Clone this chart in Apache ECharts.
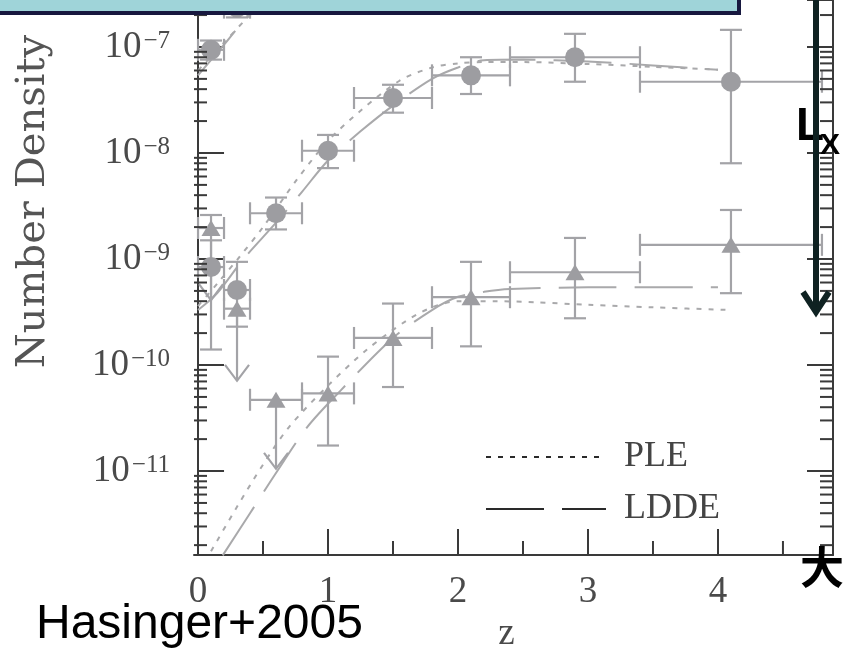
<!DOCTYPE html>
<html>
<head>
<meta charset="utf-8">
<script src="https://cdn.jsdelivr.net/npm/echarts@6/dist/echarts.min.js"></script>
<style>
  html, body { margin: 0; padding: 0; background: #ffffff; }
  #chart { width: 846px; height: 648px; }
</style>
</head>
<body>
<div id="chart"></div>
<script>
// ---- Redshift bins (centre and bin edges) ----
const zCentre = [0.1, 0.3, 0.6, 1.0, 1.5, 2.1, 2.9, 4.1];
const zLow    = [0.0, 0.2, 0.4, 0.8, 1.2, 1.8, 2.4, 3.4];
const zHigh   = [0.2, 0.4, 0.8, 1.2, 1.8, 2.4, 3.4, 4.8];

// ---- Lowest luminosity class (only the first two bins fall inside the frame) ----
const lowZ       = [0.1, 0.3];
const lowZLow    = [0.0, 0.2];
const lowZHigh   = [0.2, 0.4];
const lowDensity = [9.4e-8, 2.35e-7];
const lowErrLow  = [7.6e-8, 1.9e-7];
const lowErrHigh = [1.15e-7, 2.9e-7];

// ---- Middle luminosity class (circles) ----
const midDensity = [8.4e-10, 5.1e-10, 2.7e-9, 1.05e-8, 3.3e-8, 5.4e-8, 8.0e-8, 4.7e-8];
const midErrLow  = [1.4e-10, 2.3e-10, 1.9e-9, 7.2e-9, 2.4e-8, 3.6e-8, 4.7e-8, 8.0e-9];
const midErrHigh = [1.5e-9, 9.4e-10, 3.8e-9, 1.48e-8, 4.4e-8, 8.0e-8, 1.33e-7, 1.45e-7];

// ---- Highest luminosity class (triangles); first three bins are upper limits ----
const highDensity    = [1.96e-9, 3.4e-10, 4.7e-11, 5.4e-11, 1.8e-10, 4.36e-10, 7.5e-10, 1.36e-9];
const highErrLow     = [4.1e-10, 7.1e-11, 1.05e-11, 1.74e-11, 6.2e-11, 1.5e-10, 2.76e-10, 4.76e-10];
const highErrHigh    = [2.6e-9, 3.4e-10, 4.7e-11, 1.2e-10, 3.8e-10, 9.4e-10, 1.58e-9, 2.9e-9];
const highUpperLimit = [1, 1, 1, 0, 0, 0, 0, 0];

// ---- Model curves: PLE (dotted) and LDDE (long dashes) ----
const pleLowZ  = [0.0, 0.2, 0.4, 0.6];
const pleLowN  = [6.0e-8, 1.1e-7, 2.0e-7, 3.4e-7];
const lddeLowZ = [0.0, 0.2, 0.4, 0.6];
const lddeLowN = [5.4e-8, 1.05e-7, 2.1e-7, 3.8e-7];

const pleMidZ  = [0.0, 0.15, 0.32, 0.5, 0.76, 1.0, 1.25, 1.55, 1.8, 2.0, 2.2, 2.5, 3.0, 3.5, 4.0];
const pleMidN  = [3.6e-10, 5.9e-10, 1.05e-9, 2.0e-9, 5.6e-9, 1.3e-8, 2.5e-8, 4.8e-8, 6.4e-8, 7.0e-8, 7.2e-8, 7.2e-8, 6.9e-8, 6.5e-8, 6.1e-8];
const lddeMidZ = [0.0, 0.15, 0.35, 0.6, 0.8, 1.0, 1.25, 1.5, 1.8, 2.0, 2.2, 2.5, 3.0, 3.5, 4.0];
const lddeMidN = [3.3e-10, 4.8e-10, 1.0e-9, 2.2e-9, 4.3e-9, 8.5e-9, 1.6e-8, 2.8e-8, 5.0e-8, 6.4e-8, 7.5e-8, 7.6e-8, 7.3e-8, 6.7e-8, 6.1e-8];

const pleHighZ  = [0.1, 0.3, 0.5, 0.7, 1.0, 1.3, 1.6, 1.8, 2.0, 2.3, 2.6, 3.0, 3.5, 4.1];
const pleHighN  = [1.75e-12, 4.6e-12, 1.15e-11, 2.6e-11, 6.4e-11, 1.4e-10, 2.6e-10, 3.5e-10, 4.0e-10, 4.0e-10, 3.9e-10, 3.7e-10, 3.5e-10, 3.3e-10];
const lddeHighZ = [0.19, 0.4, 0.61, 0.84, 1.1, 1.5, 1.8, 2.0, 2.2, 2.4, 3.0, 4.0];
const lddeHighN = [1.6e-12, 4.0e-12, 1.0e-11, 2.6e-11, 5.8e-11, 1.8e-10, 3.3e-10, 4.4e-10, 4.9e-10, 5.2e-10, 5.4e-10, 5.4e-10];

// ---- Axis ranges and tick positions ----
const zMin = -0.031, zMax = 4.885;
const densityMin = Math.pow(10, -11.792), densityMax = Math.pow(10, -6.557);
const zMinorTicks = [0.5, 1.5, 2.5, 3.5, 4.5];
const decades = [-12, -11, -10, -9, -8, -7];
const minorSteps = [2, 3, 4, 5, 6, 7, 8, 9];

const MARK = '#9d9da1';
const BAR = '#a3a3a7';
const CURVE = '#a9a9ab';
const AXIS = '#3a3a3a';
const SERIF = 'Liberation Serif';
const WIDE_SERIF = 'DejaVu Serif';
const PLE_DASH = [5, 7];
const LDDE_DASH = [58, 18];

const yMinorValues = [];
decades.forEach(d => minorSteps.forEach(k => {
  const v = k * Math.pow(10, d);
  if (v > densityMin && v < densityMax) yMinorValues.push(v);
}));

function zip(xs, ys) { return xs.map((x, i) => [x, ys[i]]); }

function barRows(z, lo, hi, n, nLo, nHi, lim) {
  return z.map((v, i) => [v, lo[i], hi[i], n[i], nLo[i], nHi[i], lim ? lim[i] : 0]);
}

// Error bars with end caps; upper limits end in an open arrow head
function renderErrorBar(params, api) {
  const z = api.value(0), zl = api.value(1), zh = api.value(2);
  const n = api.value(3), nl = api.value(4), nh = api.value(5), lim = api.value(6);
  const c = api.coord([z, n]);
  const xl = api.coord([zl, n])[0];
  const xh = api.coord([zh, n])[0];
  const yl = api.coord([z, nl])[1];
  const yh = api.coord([z, nh])[1];
  const cap = 11;
  const st = { stroke: BAR, lineWidth: 2.2, fill: null };
  const kids = [
    { type: 'line', shape: { x1: xl, y1: c[1], x2: xh, y2: c[1] }, style: st },
    { type: 'line', shape: { x1: xl, y1: c[1] - cap, x2: xl, y2: c[1] + cap }, style: st },
    { type: 'line', shape: { x1: xh, y1: c[1] - cap, x2: xh, y2: c[1] + cap }, style: st },
    { type: 'line', shape: { x1: c[0], y1: yh, x2: c[0], y2: yl }, style: st }
  ];
  if (nh > n) {
    kids.push({ type: 'line', shape: { x1: c[0] - cap, y1: yh, x2: c[0] + cap, y2: yh }, style: st });
  }
  if (lim) {
    kids.push({ type: 'polyline', shape: { points: [[c[0] - 12, yl - 16], [c[0], yl], [c[0] + 12, yl - 16]] }, style: st });
  } else {
    kids.push({ type: 'line', shape: { x1: c[0] - cap, y1: yl, x2: c[0] + cap, y2: yl }, style: st });
  }
  return { type: 'group', children: kids };
}

// Log-spaced minor ticks on the left and right frame edges
function renderYMinor(params, api) {
  const cs = params.coordSys;
  const y = api.coord([0, api.value(0)])[1];
  const st = { stroke: AXIS, lineWidth: 2 };
  return { type: 'group', children: [
    { type: 'line', shape: { x1: cs.x, y1: y, x2: cs.x + 13, y2: y }, style: st },
    { type: 'line', shape: { x1: cs.x + cs.width - 13, y1: y, x2: cs.x + cs.width, y2: y }, style: st }
  ] };
}

function renderXMinor(params, api) {
  const cs = params.coordSys;
  const x = api.coord([api.value(0), densityMin])[0];
  const yb = cs.y + cs.height;
  return { type: 'line', shape: { x1: x, y1: yb, x2: x, y2: yb - 14 }, style: { stroke: AXIS, lineWidth: 2 } };
}

function curve(name, z, n, dash) {
  return {
    type: 'line', name: name, data: zip(z, n), symbol: 'none', smooth: 0.3,
    itemStyle: { color: CURVE },
    lineStyle: { color: CURVE, width: 2, type: dash }, z: 2, silent: true, clip: true
  };
}

function powerLabel(v) {
  const e = Math.log10(v);
  const r = Math.round(e);
  if (Math.abs(e - r) > 1e-6) return '';
  return '{b|10}{s|\u2212' + (-r) + '}';
}

const chart = echarts.init(document.getElementById('chart'), null, { renderer: 'canvas' });

chart.setOption({
  backgroundColor: '#ffffff',
  animation: false,
  grid: { left: 194, right: 13, top: 0, bottom: 93, containLabel: false, outerBoundsMode: 'none' },
  legend: {
    data: [
      { name: 'PLE', itemStyle: { opacity: 0 } },
      { name: 'LDDE', itemStyle: { opacity: 0 } }
    ],
    orient: 'vertical',
    left: 480, top: 434,
    itemWidth: 120, itemHeight: 14, itemGap: 16,
    selectedMode: false,
    itemStyle: { opacity: 0 },
    lineStyle: { color: '#2a2a2a', width: 2 },
    textStyle: { fontFamily: SERIF, fontSize: 36, color: '#444444', padding: [0, 0, 0, 13] }
  },
  xAxis: {
    type: 'value', min: zMin, max: zMax,
    name: 'z', nameLocation: 'middle', nameGap: 60,
    nameTextStyle: { fontFamily: SERIF, fontSize: 37, color: '#4a4a4a', padding: [0, 14, 0, 0] },
    axisLine: { lineStyle: { color: AXIS, width: 2 } },
    axisTick: { inside: true, length: 26, lineStyle: { color: AXIS, width: 2 } },
    axisLabel: {
      interval: 0, margin: 19, showMinLabel: false, showMaxLabel: false,
      fontFamily: SERIF, fontSize: 37, color: '#4a4a4a',
      formatter: v => Math.abs(v - Math.round(v)) < 1e-6 ? String(Math.round(v)) : ''
    },
    splitLine: { show: false }
  },
  yAxis: [{
    type: 'log', min: densityMin, max: densityMax, logBase: 10,
    name: 'Number Density', nameLocation: 'middle', nameGap: 140, nameRotate: 90,
    nameTextStyle: { fontFamily: WIDE_SERIF, fontSize: 40, color: '#555555', padding: [0, 0, 0, 152] },
    axisLine: { lineStyle: { color: AXIS, width: 2 } },
    axisTick: { inside: true, length: 26, lineStyle: { color: AXIS, width: 2 } },
    axisLabel: {
      margin: 24, showMinLabel: false, showMaxLabel: false,
      formatter: powerLabel,
      rich: {
        b: { fontFamily: SERIF, fontSize: 37, color: '#4a4a4a' },
        s: { fontFamily: SERIF, fontSize: 25, color: '#4a4a4a', verticalAlign: 'top', lineHeight: 24, padding: [0, 0, 0, 2] }
      }
    },
    splitLine: { show: false }
  }, {
    type: 'log', min: densityMin, max: densityMax, logBase: 10, position: 'right',
    axisLine: { show: true, lineStyle: { color: AXIS, width: 2 } },
    axisTick: { inside: true, length: 26, lineStyle: { color: AXIS, width: 2 } },
    axisLabel: { show: false },
    splitLine: { show: false }
  }],
  series: [
    curve('PLE', pleMidZ, pleMidN, PLE_DASH),
    curve('LDDE', lddeMidZ, lddeMidN, LDDE_DASH),
    curve('PLE', pleHighZ, pleHighN, PLE_DASH),
    curve('LDDE', lddeHighZ, lddeHighN, LDDE_DASH),
    curve('PLE', pleLowZ, pleLowN, PLE_DASH),
    curve('LDDE', lddeLowZ, lddeLowN, LDDE_DASH),
    {
      type: 'custom', name: 'minorY', renderItem: renderYMinor,
      data: yMinorValues.map(v => [v]), encode: { y: 0 }, silent: true, z: 5, clip: false
    },
    {
      type: 'custom', name: 'minorX', renderItem: renderXMinor,
      data: zMinorTicks.map(v => [v]), encode: { x: 0 }, silent: true, z: 5, clip: false
    },
    {
      type: 'custom', name: 'barsLow', renderItem: renderErrorBar, z: 3, clip: true, silent: true,
      data: barRows(lowZ, lowZLow, lowZHigh, lowDensity, lowErrLow, lowErrHigh, null),
      encode: { x: 0, y: 3 }
    },
    {
      type: 'custom', name: 'barsMid', renderItem: renderErrorBar, z: 3, clip: true, silent: true,
      data: barRows(zCentre, zLow, zHigh, midDensity, midErrLow, midErrHigh, null),
      encode: { x: 0, y: 3 }
    },
    {
      type: 'custom', name: 'barsHigh', renderItem: renderErrorBar, z: 3, clip: true, silent: true,
      data: barRows(zCentre, zLow, zHigh, highDensity, highErrLow, highErrHigh, highUpperLimit),
      encode: { x: 0, y: 3 }
    },
    {
      type: 'scatter', name: 'low', data: zip(lowZ, lowDensity), symbol: 'circle', symbolSize: 20,
      itemStyle: { color: MARK, opacity: 1 }, z: 4, silent: true
    },
    {
      type: 'scatter', name: 'mid', data: zip(zCentre, midDensity), symbol: 'circle', symbolSize: 20,
      itemStyle: { color: MARK, opacity: 1 }, z: 4, silent: true
    },
    {
      type: 'scatter', name: 'high', data: zip(zCentre, highDensity), symbol: 'triangle', symbolSize: [19, 16],
      itemStyle: { color: MARK, opacity: 1 }, z: 4, silent: true
    }
  ],
  graphic: [
    { type: 'rect', z: 100, shape: { x: -6, y: -6, width: 745, height: 19 },
      style: { fill: '#9fd4d9', stroke: '#17183f', lineWidth: 4 } },
    { type: 'text', z: 100, left: 796, top: 104,
      style: { text: 'L', font: 'bold 46px "Liberation Sans", Arial, sans-serif', fill: '#000000' } },
    { type: 'line', z: 101, shape: { x1: 816, y1: 0, x2: 816, y2: 311 },
      style: { stroke: '#0f2222', lineWidth: 6 } },
    { type: 'polyline', z: 101, shape: { points: [[803, 292], [816, 312], [829, 292]] },
      style: { stroke: '#0f2222', lineWidth: 6, fill: null, lineJoin: 'miter' } },
    { type: 'text', z: 102, left: 820, top: 131,
      style: { text: 'X', font: 'bold 30px "Liberation Sans", Arial, sans-serif', fill: '#000000' } },
    { type: 'text', z: 100, left: 800, top: 545,
      style: { text: '大', font: 'bold 44px "Noto Sans CJK SC", sans-serif', fill: '#000000' } },
    { type: 'text', z: 100, left: 36, top: 601,
      style: { text: 'Hasinger+2005', font: '48px "Liberation Sans", Arial, sans-serif', fill: '#000000' } }
  ]
});
</script>
</body>
</html>
